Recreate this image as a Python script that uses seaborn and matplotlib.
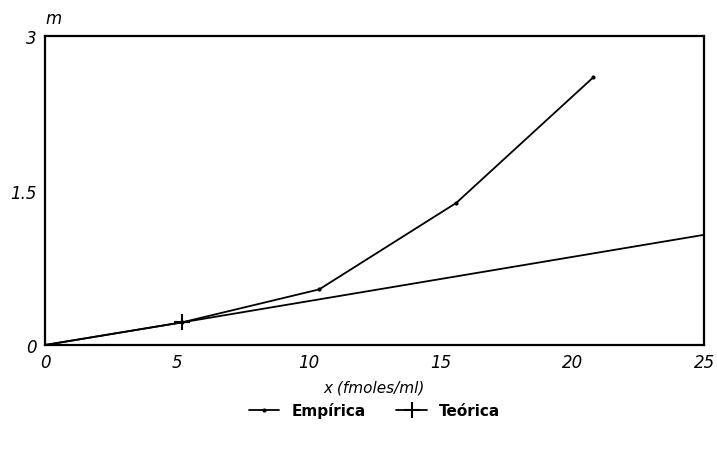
import matplotlib
matplotlib.use("Agg")
import matplotlib.pyplot as plt
import seaborn as sns
import pandas as pd

sns.set_theme(style="white")
plt.rcParams['font.family'] = ['DejaVu Sans']
plt.rcParams['text.color'] = 'black'
plt.rcParams['axes.labelcolor'] = 'black'
plt.rcParams['xtick.color'] = 'black'
plt.rcParams['ytick.color'] = 'black'

emp_x = [0, 5.2, 10.4, 15.6, 20.8]
emp_y = [0, 0.22, 0.54, 1.38, 2.60]
teo_x = [0, 5.2, 25]
teo_y = [0, 0.22, 1.07]

x_ticks = [0, 5, 10, 15, 20, 25]
y_ticks = [0, 1.5, 3]
y_tick_labels = ["0", "1.5", "3"]

df_emp = pd.DataFrame({"x": emp_x, "m": emp_y})
df_teo = pd.DataFrame({"x": teo_x, "m": teo_y})

fig = plt.figure(figsize=(7.17, 4.52), dpi=100)
ax = fig.add_axes([0.0628, 0.2345, 0.9192, 0.6835])

sns.lineplot(data=df_emp, x="x", y="m", ax=ax, color="black", lw=1.3,
             marker="o", markersize=3, markeredgewidth=0, label="Empírica")
sns.lineplot(data=df_teo, x="x", y="m", ax=ax, color="black", lw=1.3,
             marker="+", markersize=11, markeredgewidth=1.5,
             markeredgecolor="black", markevery=[1], label="Teórica")

ax.set_xlim(0, 25)
ax.set_ylim(0, 3)
ax.set_xticks(x_ticks)
ax.set_xticklabels([str(t) for t in x_ticks], fontstyle="italic", fontsize=12)
ax.set_yticks(y_ticks)
ax.set_yticklabels(y_tick_labels, fontstyle="italic", fontsize=12)
ax.tick_params(axis="both", length=0, pad=6)
for s in ax.spines.values():
    s.set_color("black")
    s.set_linewidth(1.6)

ax.set_xlabel("x (fmoles/ml)", fontstyle="italic", fontsize=11, labelpad=6)
ax.set_ylabel("")
ax.text(0.0, 1.03, "m", transform=ax.transAxes, fontstyle="italic",
        fontsize=12, ha="left", va="bottom")

leg = ax.legend(loc="upper center", bbox_to_anchor=(0.5, -0.14), ncol=2,
                frameon=False, prop={"weight": "bold", "size": 11},
                handlelength=2.0, columnspacing=2.0, numpoints=1)
for h in leg.legend_handles:
    n = len(h.get_xdata())
    h.set_markevery([n // 2])
    h.set_markeredgecolor("black")

fig.savefig("out.png", dpi=100)
